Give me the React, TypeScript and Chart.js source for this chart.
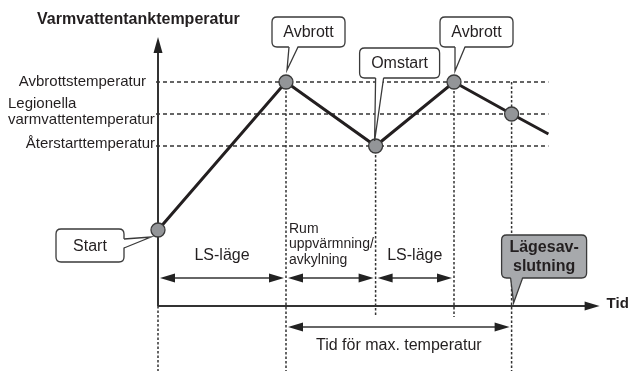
import React, { useEffect, useRef } from "react";
import { Chart, registerables } from "chart.js";

Chart.register(...registerables);

// ---- Data ----
const pointTimes = [0, 40, 68, 92.5, 110.5, 122];
const pointTemps = [19, 56, 40, 56, 48, 43];
const pointRadii = [7, 7, 7, 7, 7, 0];

const levelNames = [["Avbrottstemperatur"], ["Legionella", "varmvattentemperatur"], ["Återstarttemperatur"]];
const levelTemps = [56, 48, 40];

const phaseBounds = [0, 40, 68, 92.5];
const phaseLabels = [["LS-läge"], ["Rum", "uppvärmning/", "avkylning"], ["LS-läge"]];

const maxTempStart = 40;
const maxTempEnd = 110.5;
const maxTempLabel = "Tid för max. temperatur";

const calloutLabels = ["Start", "Avbrott", "Omstart", "Avbrott"];
const endLabel = ["Lägesav-", "slutning"];

const yTitle = "Varmvattentanktemperatur";
const xTitle = "Tid";

const X_MAX = 138;
const Y_MAX = 66.5;

const FONT = '"Liberation Sans", Arial, sans-serif';
const INK = "#231f20";

function roundRect(ctx: CanvasRenderingContext2D, x: number, y: number, w: number, h: number, r: number) {
  ctx.beginPath();
  ctx.moveTo(x + r, y);
  ctx.lineTo(x + w - r, y);
  ctx.quadraticCurveTo(x + w, y, x + w, y + r);
  ctx.lineTo(x + w, y + h - r);
  ctx.quadraticCurveTo(x + w, y + h, x + w - r, y + h);
  ctx.lineTo(x + r, y + h);
  ctx.quadraticCurveTo(x, y + h, x, y + h - r);
  ctx.lineTo(x, y + r);
  ctx.quadraticCurveTo(x, y, x + r, y);
  ctx.closePath();
}

function callout(
  ctx: CanvasRenderingContext2D,
  box: [number, number, number, number],
  tail: [number, number][],
  lines: string[],
  fill: string,
  bold: boolean,
  inset: [number, number]
) {
  const [x, y, w, h] = box;
  ctx.save();
  ctx.lineWidth = 1.3;
  ctx.strokeStyle = "#3a3a3a";
  ctx.fillStyle = fill;
  roundRect(ctx, x, y, w, h, 5);
  ctx.fill();
  ctx.stroke();
  // tail: fill slightly into the box to hide the border under the tail base
  ctx.beginPath();
  ctx.moveTo(tail[0][0] - inset[0] * 0 + inset[0], tail[0][1] + inset[1]);
  ctx.lineTo(tail[1][0] + inset[0], tail[1][1] + inset[1]);
  ctx.lineTo(tail[2][0], tail[2][1]);
  ctx.closePath();
  ctx.fill();
  ctx.beginPath();
  ctx.moveTo(tail[0][0], tail[0][1]);
  ctx.lineTo(tail[2][0], tail[2][1]);
  ctx.lineTo(tail[1][0], tail[1][1]);
  ctx.stroke();
  ctx.fillStyle = INK;
  ctx.font = `${bold ? "bold " : ""}16px ${FONT}`;
  ctx.textAlign = "center";
  ctx.textBaseline = "middle";
  const lh = 19;
  const cy = y + h / 2 - ((lines.length - 1) * lh) / 2 + 1;
  lines.forEach((l, i) => ctx.fillText(l, x + w / 2, cy + i * lh));
  ctx.restore();
}

function hArrowHead(ctx: CanvasRenderingContext2D, x: number, y: number, dir: number, len = 15, hw = 4.5) {
  ctx.beginPath();
  ctx.moveTo(x, y);
  ctx.lineTo(x - dir * len, y - hw);
  ctx.lineTo(x - dir * len, y + hw);
  ctx.closePath();
  ctx.fill();
}

function doubleArrow(ctx: CanvasRenderingContext2D, x1: number, x2: number, y: number) {
  ctx.beginPath();
  ctx.moveTo(x1 + 4, y);
  ctx.lineTo(x2 - 4, y);
  ctx.stroke();
  hArrowHead(ctx, x1, y, -1);
  hArrowHead(ctx, x2, y, 1);
}

const diagramPlugin = {
  id: "diagram",
  beforeDatasetsDraw(chart: any) {
    const ctx: CanvasRenderingContext2D = chart.ctx;
    const xs = chart.scales.x;
    const ys = chart.scales.y;
    const px = (t: number) => xs.getPixelForValue(t);
    const py = (v: number) => ys.getPixelForValue(v);
    const x0 = px(0);
    const yAxis = py(0);
    const bottom = chart.height;
    const lineEnd = px(pointTimes[pointTimes.length - 1]);
    ctx.save();

    // horizontal dashed level lines
    ctx.strokeStyle = "#333";
    ctx.lineWidth = 1.3;
    ctx.setLineDash([4, 3]);
    levelTemps.forEach((v) => {
      ctx.beginPath();
      ctx.moveTo(x0 - 2, py(v));
      ctx.lineTo(lineEnd, py(v));
      ctx.stroke();
    });

    // vertical dotted lines
    ctx.setLineDash([2.5, 2]);
    ctx.lineWidth = 1.5;
    const vLines: [number, number, number][] = [
      [pointTimes[0], yAxis, bottom],
      [pointTimes[1], py(pointTemps[1]), bottom],
      [pointTimes[2], py(pointTemps[2]), yAxis + 11],
      [pointTimes[3], py(pointTemps[3]), yAxis + 11],
      [pointTimes[4], py(levelTemps[0]), bottom],
    ];
    vLines.forEach(([t, a, b]) => {
      ctx.beginPath();
      ctx.moveTo(px(t), a);
      ctx.lineTo(px(t), b);
      ctx.stroke();
    });
    ctx.setLineDash([]);

    // axes
    ctx.strokeStyle = "#333";
    ctx.fillStyle = "#222";
    ctx.lineWidth = 2;
    ctx.beginPath();
    ctx.moveTo(x0, yAxis);
    ctx.lineTo(x0, chart.chartArea.top + 10);
    ctx.stroke();
    ctx.beginPath();
    ctx.moveTo(x0, chart.chartArea.top - 3);
    ctx.lineTo(x0 - 4.5, chart.chartArea.top + 13);
    ctx.lineTo(x0 + 4.5, chart.chartArea.top + 13);
    ctx.closePath();
    ctx.fill();
    const xEnd = px(X_MAX);
    ctx.beginPath();
    ctx.moveTo(x0, yAxis);
    ctx.lineTo(xEnd - 8, yAxis);
    ctx.stroke();
    hArrowHead(ctx, xEnd, yAxis, 1, 15, 4.5);

    // phase arrows
    ctx.lineWidth = 1.6;
    const rowY = yAxis - 28;
    for (let i = 0; i < phaseBounds.length - 1; i++) {
      doubleArrow(ctx, px(phaseBounds[i]) + 2, px(phaseBounds[i + 1]) - 2, rowY);
    }
    const row2Y = yAxis + 21;
    doubleArrow(ctx, px(maxTempStart) + 2, px(maxTempEnd) - 2, row2Y);

    // phase labels
    ctx.fillStyle = INK;
    ctx.textBaseline = "middle";
    phaseLabels.forEach((lines, i) => {
      const a = px(phaseBounds[i]);
      const b = px(phaseBounds[i + 1]);
      if (lines.length === 1) {
        ctx.font = `16px ${FONT}`;
        ctx.textAlign = "center";
        ctx.fillText(lines[0], (a + b) / 2, rowY - 22);
      } else {
        ctx.font = `14px ${FONT}`;
        ctx.textAlign = "left";
        lines.forEach((l, j) => ctx.fillText(l, a + 3, rowY - 49 + j * 15.5));
      }
    });
    ctx.font = `16px ${FONT}`;
    ctx.textAlign = "center";
    ctx.fillText(maxTempLabel, (px(maxTempStart) + px(maxTempEnd)) / 2, row2Y + 19);

    // axis titles
    ctx.font = `bold 16px ${FONT}`;
    ctx.textAlign = "left";
    ctx.fillText(yTitle, 37, chart.chartArea.top - 20);
    ctx.font = `bold 15px ${FONT}`;
    ctx.fillText(xTitle, xEnd + 7, yAxis - 2);

    // level labels
    ctx.font = `15px ${FONT}`;
    ctx.textAlign = "right";
    ctx.fillText(levelNames[0][0], x0 - 12, py(levelTemps[0]));
    ctx.textAlign = "left";
    ctx.fillText(levelNames[1][0], 8, py(levelTemps[1]) - 10);
    ctx.fillText(levelNames[1][1], 8, py(levelTemps[1]) + 6);
    ctx.textAlign = "right";
    ctx.fillText(levelNames[2][0], x0 - 3, py(levelTemps[2]) - 2);
    ctx.restore();
  },
  afterDatasetsDraw(chart: any) {
    const ctx: CanvasRenderingContext2D = chart.ctx;
    const xs = chart.scales.x;
    const ys = chart.scales.y;
    const px = (t: number) => xs.getPixelForValue(t);
    const py = (v: number) => ys.getPixelForValue(v);
    const yAxis = py(0);

    // Start (tail on the right side of the box)
    const sx = px(pointTimes[0]);
    const sy = py(pointTemps[0]);
    callout(ctx, [sx - 102, sy - 1, 68, 33], [[sx - 34, sy + 9], [sx - 34, sy + 18], [sx - 7, sy + 7]], [calloutLabels[0]], "#fff", false, [-1.5, 0]);
    // Avbrott 1
    const a1x = px(pointTimes[1]);
    const a1y = py(pointTemps[1]);
    callout(ctx, [a1x - 14, a1y - 65, 73, 30], [[a1x + 3, a1y - 35], [a1x + 12, a1y - 35], [a1x + 1, a1y - 12]], [calloutLabels[1]], "#fff", false, [0, -1.5]);
    // Omstart
    const ox = px(pointTimes[2]);
    const oy = py(pointTemps[2]);
    callout(ctx, [ox - 16, oy - 98, 80, 30], [[ox, oy - 68], [ox + 8, oy - 68], [ox - 1, oy - 5]], [calloutLabels[2]], "#fff", false, [0, -1.5]);
    // Avbrott 2
    const a2x = px(pointTimes[3]);
    const a2y = py(pointTemps[3]);
    callout(ctx, [a2x - 14, a2y - 65, 73, 30], [[a2x + 1, a2y - 35], [a2x + 11, a2y - 35], [a2x + 1, a2y - 11]], [calloutLabels[3]], "#fff", false, [0, -1.5]);
    // End
    const ex = px(pointTimes[4]);
    callout(ctx, [ex - 10, yAxis - 71, 85, 43], [[ex - 1, yAxis - 28], [ex + 11, yAxis - 28], [ex + 2, yAxis - 3]], endLabel, "#a7a9ac", true, [0, -1.5]);
  },
};

export default function App() {
  const ref = useRef<HTMLCanvasElement | null>(null);
  useEffect(() => {
    document.body.style.margin = "0";
    if (!ref.current) return;
    const chart = new Chart(ref.current, {
      type: "line",
      data: {
        datasets: [
          {
            data: pointTimes.map((t, i) => ({ x: t, y: pointTemps[i] })),
            borderColor: "#231f20",
            borderWidth: 3,
            pointRadius: pointRadii,
            pointBackgroundColor: "#939598",
            pointBorderColor: "#3a3a3a",
            pointBorderWidth: 1.3,
            tension: 0,
            clip: false as any,
          },
        ],
      },
      options: {
        animation: false,
        responsive: false,
        events: [],
        layout: { padding: { left: 158, right: 630 - 158 - X_MAX * 3.2, top: 40, bottom: 65 } },
        plugins: { legend: { display: false }, tooltip: { enabled: false }, title: { display: false } },
        scales: {
          x: { type: "linear", min: 0, max: X_MAX, display: false },
          y: { type: "linear", min: 0, max: Y_MAX, display: false },
        },
      },
      plugins: [diagramPlugin],
    });
    return () => chart.destroy();
  }, []);
  return <canvas ref={ref} width={630} height={371} style={{ display: "block" }} />;
}
